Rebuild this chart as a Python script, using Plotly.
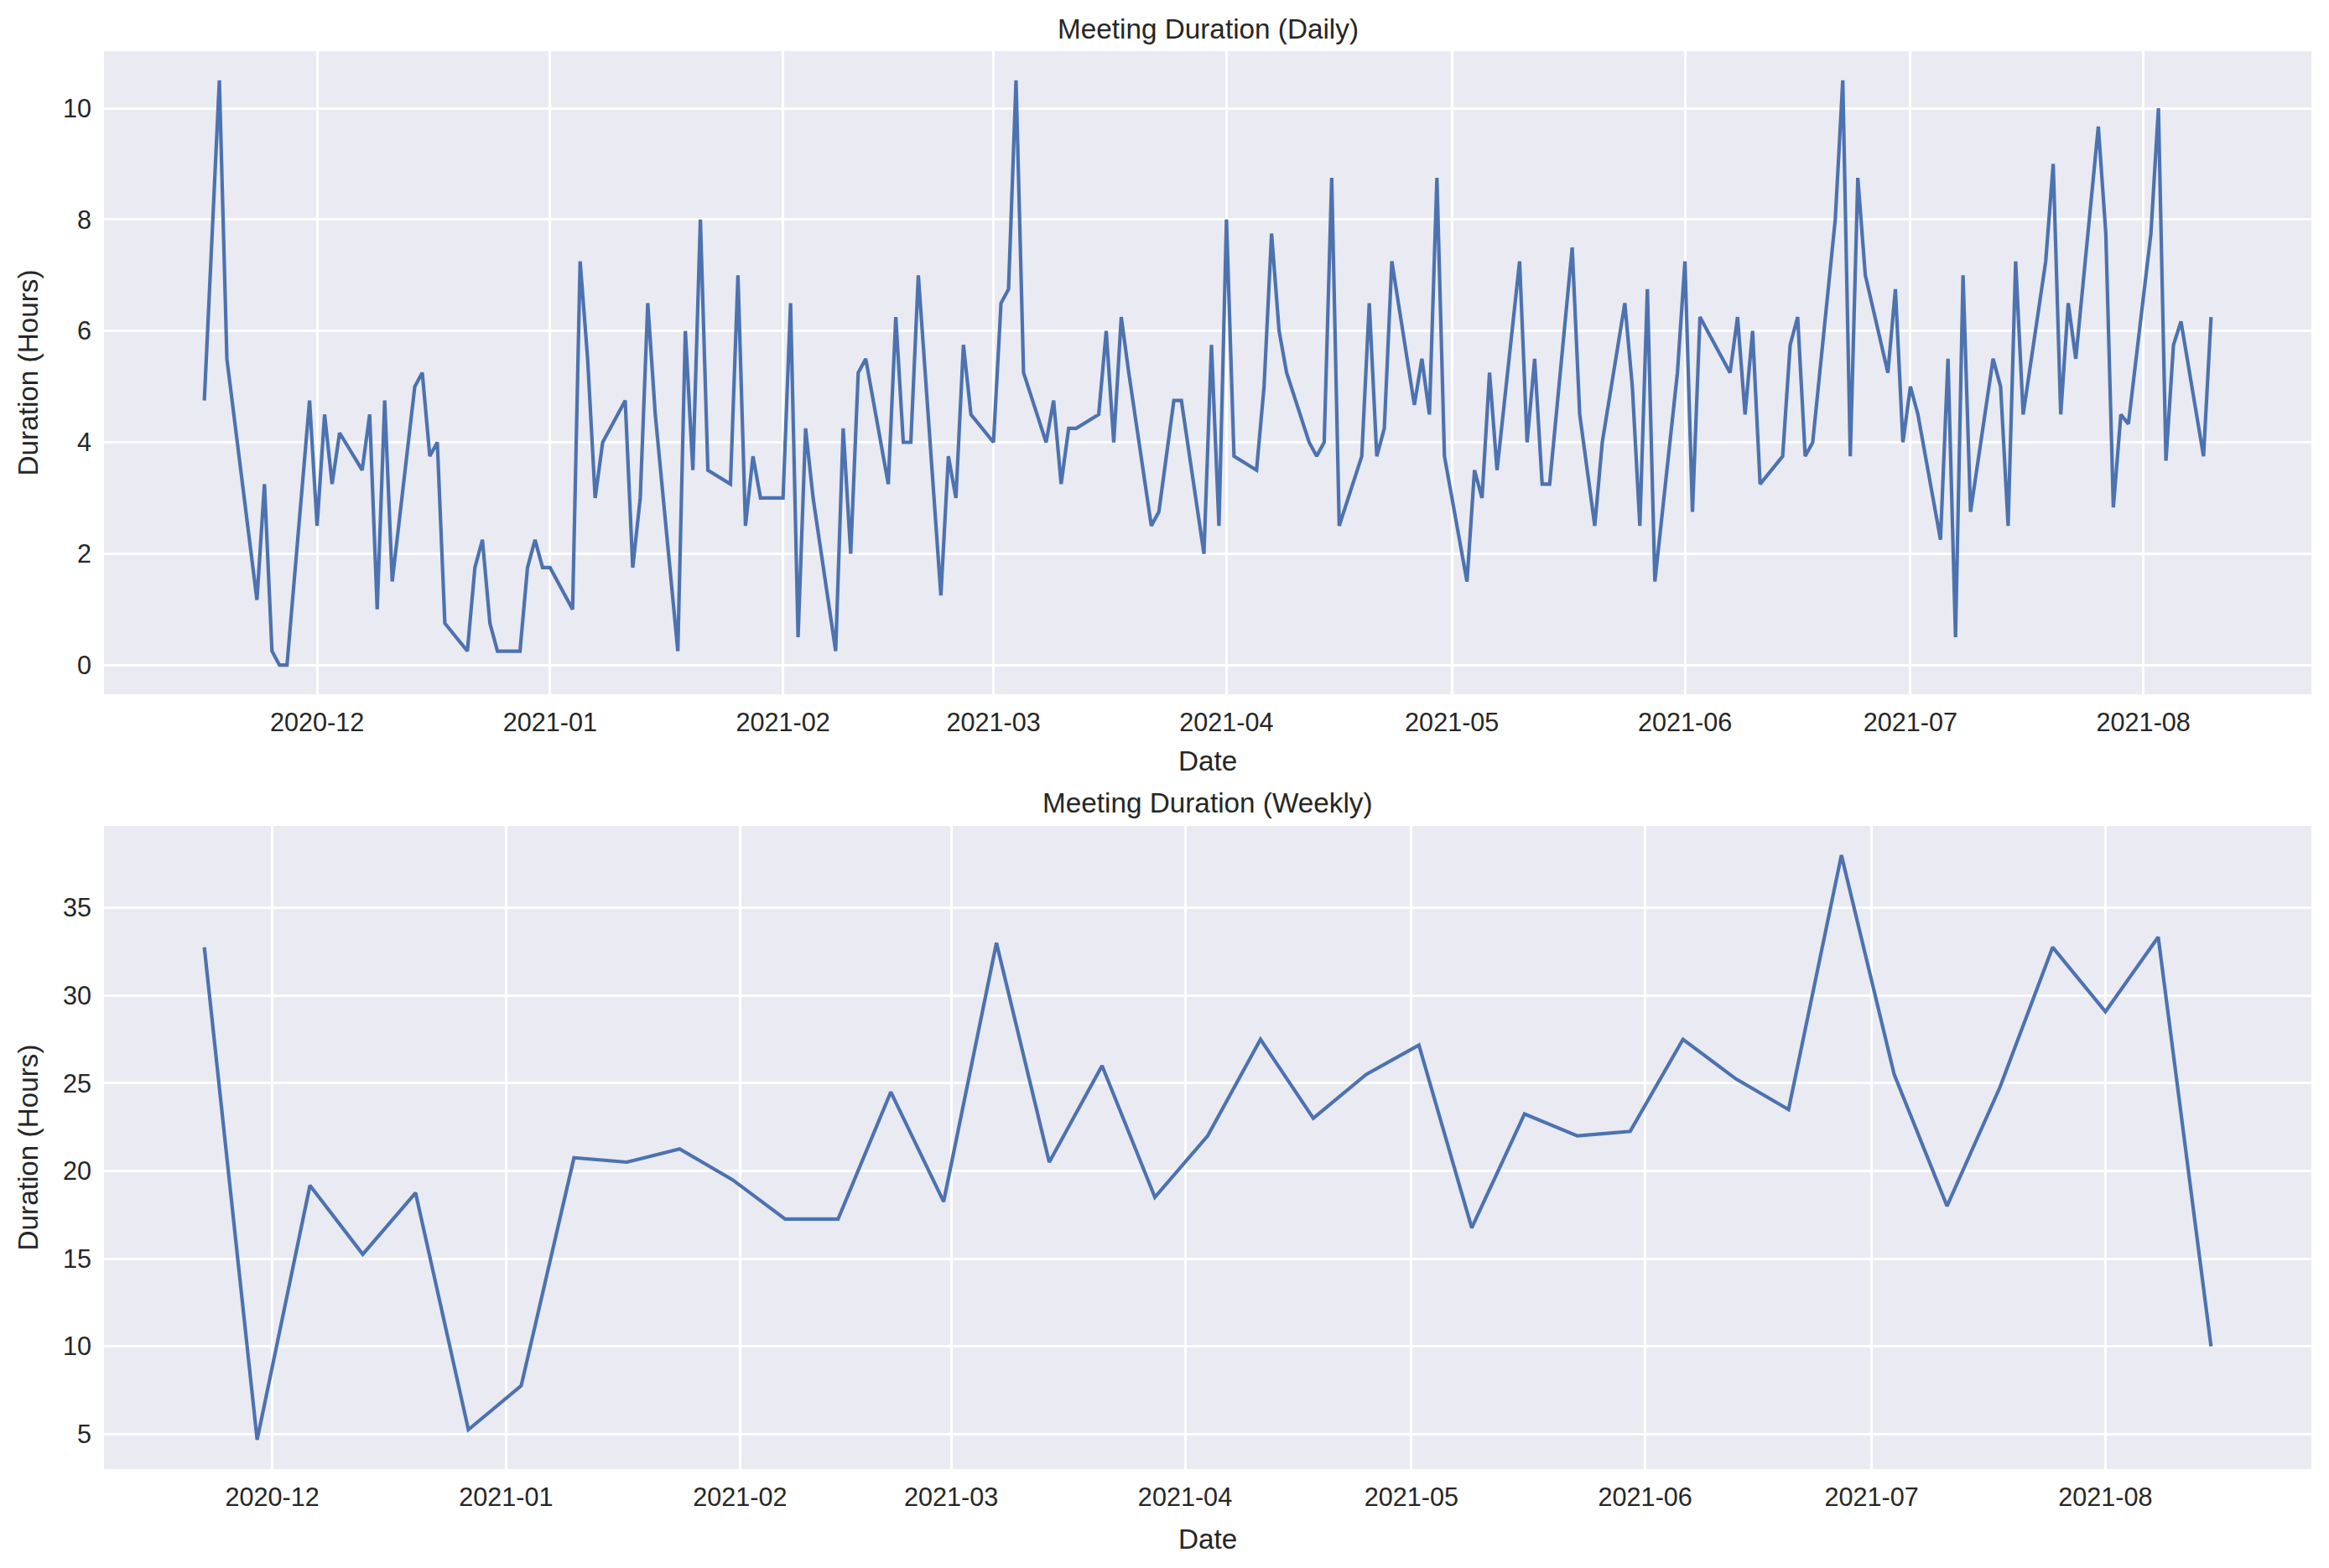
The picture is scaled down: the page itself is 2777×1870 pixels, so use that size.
import plotly.graph_objects as go
import pandas as pd

# ---------------- data ----------------
daily_dates = [
    "2020-11-16", "2020-11-18", "2020-11-19", "2020-11-23", "2020-11-24", "2020-11-25", "2020-11-26", "2020-11-27",
    "2020-11-30", "2020-12-01", "2020-12-02", "2020-12-03", "2020-12-04",
    "2020-12-07", "2020-12-08", "2020-12-09", "2020-12-10", "2020-12-11",
    "2020-12-14", "2020-12-15", "2020-12-16", "2020-12-17", "2020-12-18",
    "2020-12-21", "2020-12-22", "2020-12-23", "2020-12-24", "2020-12-25",
    "2020-12-28", "2020-12-29", "2020-12-30", "2020-12-31", "2021-01-01",
    "2021-01-04", "2021-01-05", "2021-01-06", "2021-01-07", "2021-01-08",
    "2021-01-11", "2021-01-12", "2021-01-13", "2021-01-14", "2021-01-15",
    "2021-01-18", "2021-01-19", "2021-01-20", "2021-01-21", "2021-01-22",
    "2021-01-25", "2021-01-26", "2021-01-27", "2021-01-28", "2021-01-29",
    "2021-02-01", "2021-02-02", "2021-02-03", "2021-02-04", "2021-02-05",
    "2021-02-08", "2021-02-09", "2021-02-10", "2021-02-11", "2021-02-12",
    "2021-02-15", "2021-02-16", "2021-02-17", "2021-02-18", "2021-02-19",
    "2021-02-22", "2021-02-23", "2021-02-24", "2021-02-25", "2021-02-26",
    "2021-03-01", "2021-03-02", "2021-03-03", "2021-03-04", "2021-03-05",
    "2021-03-08", "2021-03-09", "2021-03-10", "2021-03-11", "2021-03-12",
    "2021-03-15", "2021-03-16", "2021-03-17", "2021-03-18", "2021-03-19",
    "2021-03-22", "2021-03-23", "2021-03-24", "2021-03-25", "2021-03-26",
    "2021-03-29", "2021-03-30", "2021-03-31", "2021-04-01", "2021-04-02",
    "2021-04-05", "2021-04-06", "2021-04-07", "2021-04-08", "2021-04-09",
    "2021-04-12", "2021-04-13", "2021-04-14", "2021-04-15", "2021-04-16",
    "2021-04-19", "2021-04-20", "2021-04-21", "2021-04-22", "2021-04-23",
    "2021-04-26", "2021-04-27", "2021-04-28", "2021-04-29", "2021-04-30",
    "2021-05-03", "2021-05-04", "2021-05-05", "2021-05-06", "2021-05-07",
    "2021-05-10", "2021-05-11", "2021-05-12", "2021-05-13", "2021-05-14",
    "2021-05-17", "2021-05-18", "2021-05-19", "2021-05-20", "2021-05-21",
    "2021-05-24", "2021-05-25", "2021-05-26", "2021-05-27", "2021-05-28",
    "2021-05-31", "2021-06-01", "2021-06-02", "2021-06-03", "2021-06-04",
    "2021-06-07", "2021-06-08", "2021-06-09", "2021-06-10", "2021-06-11",
    "2021-06-14", "2021-06-15", "2021-06-16", "2021-06-17", "2021-06-18",
    "2021-06-21", "2021-06-22", "2021-06-23", "2021-06-24", "2021-06-25",
    "2021-06-28", "2021-06-29", "2021-06-30", "2021-07-01", "2021-07-02",
    "2021-07-05", "2021-07-06", "2021-07-07", "2021-07-08", "2021-07-09",
    "2021-07-12", "2021-07-13", "2021-07-14", "2021-07-15", "2021-07-16",
    "2021-07-19", "2021-07-20", "2021-07-21", "2021-07-22", "2021-07-23",
    "2021-07-26", "2021-07-27", "2021-07-28", "2021-07-29", "2021-07-30",
    "2021-08-02", "2021-08-03", "2021-08-04", "2021-08-05", "2021-08-06",
    "2021-08-09", "2021-08-10",
]
daily_hours = [
    4.75, 10.5, 5.5, 1.17, 3.25, 0.25, 0.0, 0.0,
    4.75, 2.5, 4.5, 3.25, 4.17,
    3.5, 4.5, 1.0, 4.75, 1.5,
    5.0, 5.25, 3.75, 4.0, 0.75,
    0.25, 1.75, 2.25, 0.75, 0.25,
    0.25, 1.75, 2.25, 1.75, 1.75,
    1.0, 7.25, 5.5, 3.0, 4.0,
    4.75, 1.75, 3.0, 6.5, 4.5,
    0.25, 6.0, 3.5, 8.0, 3.5,
    3.25, 7.0, 2.5, 3.75, 3.0,
    3.0, 6.5, 0.5, 4.25, 3.0,
    0.25, 4.25, 2.0, 5.25, 5.5,
    3.25, 6.25, 4.0, 4.0, 7.0,
    1.25, 3.75, 3.0, 5.75, 4.5,
    4.0, 6.5, 6.75, 10.5, 5.25,
    4.0, 4.75, 3.25, 4.25, 4.25,
    4.5, 6.0, 4.0, 6.25, 5.25,
    2.5, 2.75, 3.75, 4.75, 4.75,
    2.0, 5.75, 2.5, 8.0, 3.75,
    3.5, 5.0, 7.75, 6.0, 5.25,
    4.0, 3.75, 4.0, 8.75, 2.5,
    3.75, 6.5, 3.75, 4.25, 7.25,
    4.67, 5.5, 4.5, 8.75, 3.75,
    1.5, 3.5, 3.0, 5.25, 3.5,
    7.25, 4.0, 5.5, 3.25, 3.25,
    7.5, 4.5, 3.5, 2.5, 4.0,
    6.5, 5.0, 2.5, 6.75, 1.5,
    5.25, 7.25, 2.75, 6.25, 6.0,
    5.25, 6.25, 4.5, 6.0, 3.25,
    3.75, 5.75, 6.25, 3.75, 4.0,
    8.0, 10.5, 3.75, 8.75, 7.0,
    5.25, 6.75, 4.0, 5.0, 4.5,
    2.25, 5.5, 0.5, 7.0, 2.75,
    5.5, 5.0, 2.5, 7.25, 4.5,
    7.25, 9.0, 4.5, 6.5, 5.5,
    9.67, 7.75, 2.83, 4.5, 4.33,
    7.75, 10.0, 3.67, 5.75, 6.17,
    3.75, 6.25,
]

weekly_dates = [
    "2020-11-22", "2020-11-29", "2020-12-06", "2020-12-13", "2020-12-20", "2020-12-27",
    "2021-01-03", "2021-01-10", "2021-01-17", "2021-01-24", "2021-01-31",
    "2021-02-07", "2021-02-14", "2021-02-21", "2021-02-28",
    "2021-03-07", "2021-03-14", "2021-03-21", "2021-03-28",
    "2021-04-04", "2021-04-11", "2021-04-18", "2021-04-25",
    "2021-05-02", "2021-05-09", "2021-05-16", "2021-05-23", "2021-05-30",
    "2021-06-06", "2021-06-13", "2021-06-20", "2021-06-27",
    "2021-07-04", "2021-07-11", "2021-07-18", "2021-07-25",
    "2021-08-01", "2021-08-08", "2021-08-15",
]
weekly_hours = [
    32.75, 4.67, 19.17, 15.25, 18.75, 5.25,
    7.75, 20.75, 20.5, 21.25, 19.5,
    17.25, 17.25, 24.5, 18.25,
    33.0, 20.5, 26.0, 18.5,
    22.0, 27.5, 23.0, 25.5,
    27.17, 16.75, 23.25, 22.0, 22.25,
    27.5, 25.25, 23.5, 38.0,
    25.5, 18.0, 24.75, 32.75,
    29.08, 33.33, 10.0,
]

daily_ticks = [0, 2, 4, 6, 8, 10]
weekly_ticks = [5, 10, 15, 20, 25, 30, 35]

# ---------------- style ----------------
W, H = 2777, 1870
L, R, T, B = 124, 2756, 61, 1752
top_bot, bot_top = 828, 985
PH = B - T
FONT = "Liberation Sans, Arial, sans-serif"
TXT = "#262626"
BG = "#EAEAF2"
LINE = "#4C72B0"
TICK_PX = 30.6
LABEL_PX = 33.3


def pad_range(vals, frac=0.05):
    lo, hi = min(vals), max(vals)
    span = hi - lo
    return [lo - frac * span, hi + frac * span]


def date_range(dates, frac=0.05):
    d = pd.to_datetime(dates)
    lo, hi = d.min(), d.max()
    span = hi - lo
    return [lo - frac * span, hi + frac * span]


def py(pix):
    return (B - pix) / PH


def px(pix):
    return (pix - L) / (R - L)


fig = go.Figure()
fig.add_trace(go.Scatter(x=pd.to_datetime(daily_dates), y=daily_hours, mode="lines",
                         line=dict(color=LINE, width=4.2), xaxis="x", yaxis="y",
                         showlegend=False))
fig.add_trace(go.Scatter(x=pd.to_datetime(weekly_dates), y=weekly_hours, mode="lines",
                         line=dict(color=LINE, width=4.2), xaxis="x2", yaxis="y2",
                         showlegend=False))

xcommon = dict(showgrid=True, gridcolor="white", gridwidth=2.8, zeroline=False,
               showline=False, ticks="", tickformat="%Y-%m", dtick="M1",
               tick0="2020-12-01", tickfont=dict(family=FONT, size=TICK_PX, color=TXT),
               ticklabelstandoff=12)
ycommon = dict(showgrid=True, gridcolor="white", gridwidth=2.8, zeroline=False,
               showline=False, ticks="", tickfont=dict(family=FONT, size=TICK_PX, color=TXT),
               ticklabelstandoff=14)

fig.update_layout(
    width=W, height=H,
    margin=dict(l=L, r=W - R, t=T, b=H - B, pad=0),
    paper_bgcolor="white", plot_bgcolor=BG,
    xaxis=dict(domain=[0, 1], anchor="y", range=date_range(daily_dates), **xcommon),
    yaxis=dict(domain=[py(top_bot), 1], anchor="x", range=pad_range(daily_hours),
               tickvals=daily_ticks, **ycommon),
    xaxis2=dict(domain=[0, 1], anchor="y2", range=date_range(weekly_dates), **xcommon),
    yaxis2=dict(domain=[0, py(bot_top)], anchor="x2", range=pad_range(weekly_hours),
                tickvals=weekly_ticks, **ycommon),
)

ann_font = dict(family=FONT, size=LABEL_PX, color=TXT)
annotations = [
    dict(text="Meeting Duration (Daily)", x=0.5, y=py(34), xref="paper", yref="paper",
         showarrow=False, xanchor="center", yanchor="middle", font=ann_font),
    dict(text="Meeting Duration (Weekly)", x=0.5, y=py(957), xref="paper", yref="paper",
         showarrow=False, xanchor="center", yanchor="middle", font=ann_font),
    dict(text="Date", x=0.5, y=py(908), xref="paper", yref="paper",
         showarrow=False, xanchor="center", yanchor="middle", font=ann_font),
    dict(text="Date", x=0.5, y=py(1835), xref="paper", yref="paper",
         showarrow=False, xanchor="center", yanchor="middle", font=ann_font),
    dict(text="Duration (Hours)", x=px(33), y=(py(T) + py(top_bot)) / 2, xref="paper", yref="paper",
         showarrow=False, xanchor="center", yanchor="middle", textangle=-90, font=ann_font),
    dict(text="Duration (Hours)", x=px(33), y=(py(bot_top) + py(B)) / 2, xref="paper", yref="paper",
         showarrow=False, xanchor="center", yanchor="middle", textangle=-90, font=ann_font),
]
fig.update_layout(annotations=annotations)

fig.write_html("out.html")
